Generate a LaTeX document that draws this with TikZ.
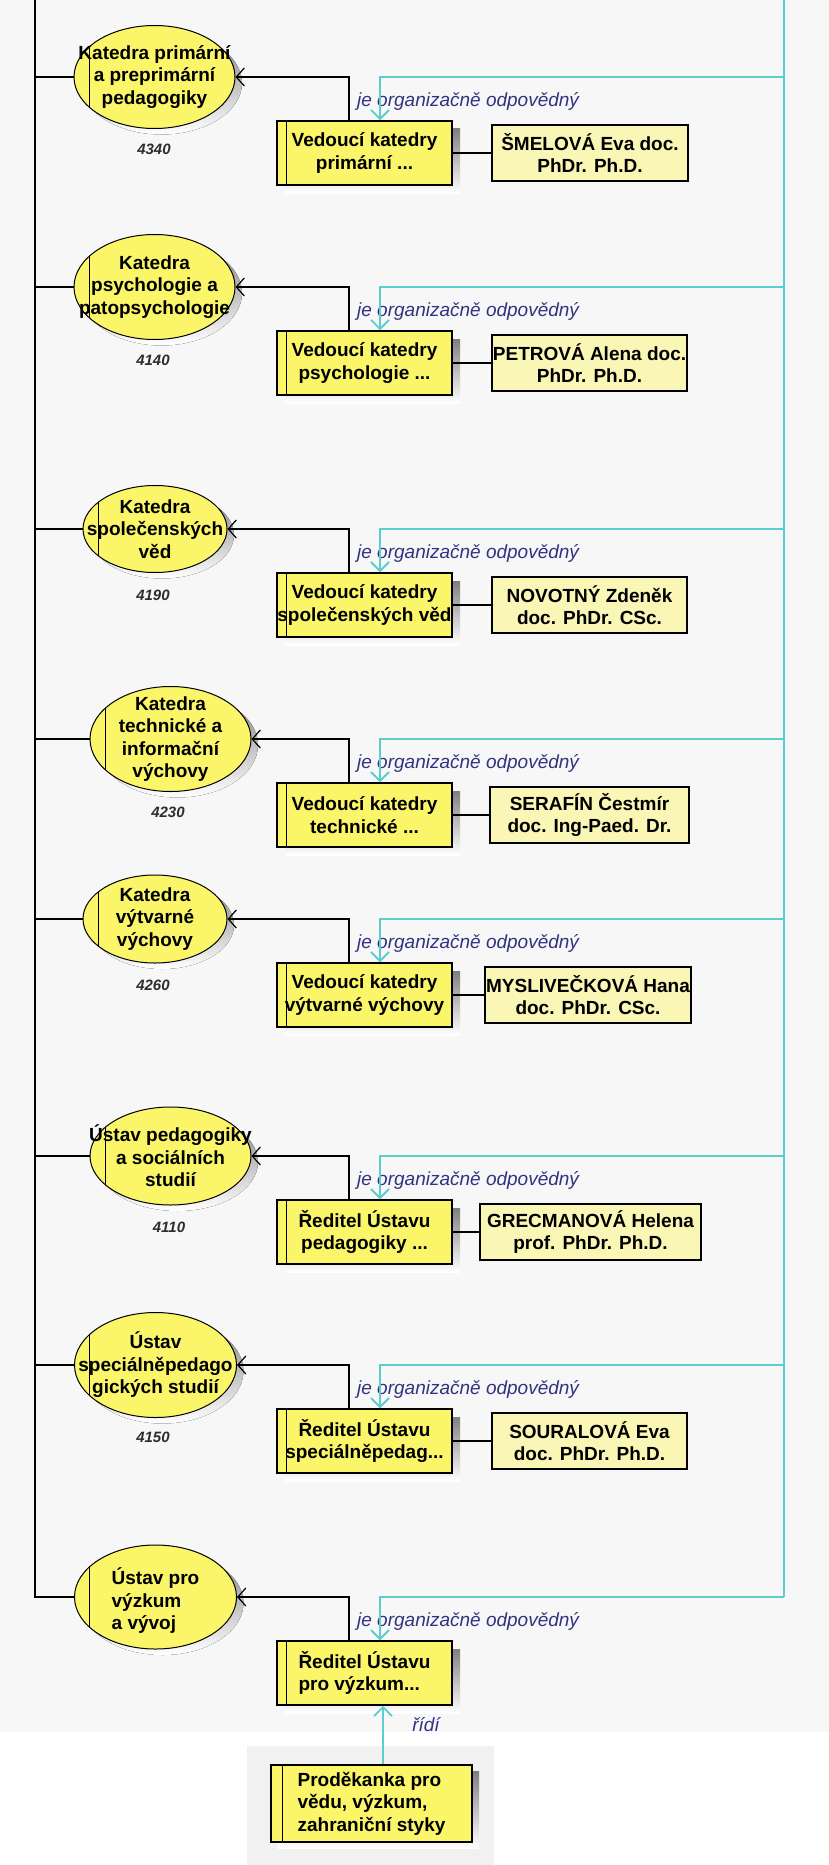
\documentclass[tikz,border=0pt]{standalone}
\usepackage{fontspec}
\setmainfont{Liberation Sans}
\usetikzlibrary{arrows.meta,shapes.geometric,calc}

\definecolor{bgmain}{RGB}{247,247,247}
\definecolor{bgbox}{RGB}{241,241,241}
\definecolor{yel}{RGB}{250,245,105}
\definecolor{pale}{RGB}{250,246,182}
\definecolor{shade}{RGB}{160,160,160}
\definecolor{tealc}{RGB}{95,205,205}
\definecolor{navy}{RGB}{50,50,130}
\definecolor{numc}{RGB}{45,45,45}

\newcommand\EllNode[5]{%
  \fill[shade] (#2+7,#3+6) ellipse [x radius=#4/2, y radius=#5/2];
  \node[ell, minimum width=#4pt, minimum height=#5pt] (#1) at (#2,#3) {};
}
\newcommand\MainBox[5]{%
  \fill[shade] (#2-87.5+8,#3-32+8) rectangle (#2+87.5+8,#3+32+8);
  \node[mainbox, align=#4] (#1) at (#2,#3) {#5};
  \draw[line width=1.2pt] ([xshift=10pt]#1.north west) -- ([xshift=10pt]#1.south west);
}

\begin{document}
\begin{tikzpicture}[x=1pt,y=-1pt,
  txt/.style={font=\bfseries\fontsize{19}{22.5}\selectfont},
  ell/.style={ellipse, draw=black, line width=1pt, fill=yel, inner sep=0pt,
    path picture={\draw[line width=1pt] ([xshift=15pt]path picture bounding box.north west) -- ([xshift=15pt]path picture bounding box.south west);}},
  etext/.style={txt, align=center, inner sep=0pt},
  mainbox/.style={rectangle, draw=black, line width=1.5pt, fill=yel, minimum width=175pt, minimum height=64pt, inner sep=0pt, txt},
  person/.style={rectangle, draw=black, line width=1.2pt, fill=pale, minimum height=56pt, inner sep=0pt, txt, align=center},
  rel/.style={font=\itshape\fontsize{19}{22}\selectfont, text=navy, inner sep=0pt},
  num/.style={font=\bfseries\itshape\fontsize{15}{18}\selectfont, text=numc, inner sep=0pt},
  blk/.style={draw=black, line width=1.2pt},
  blkarr/.style={blk, -{Straight Barb[length=8pt,width=18pt]}},
  tealline/.style={draw=tealc, line width=2.5pt},
  tealarr/.style={tealline, -{Straight Barb[length=9pt,width=18pt,line width=1.8pt]}}
]
\useasboundingbox (0,0) rectangle (829,1865);
\fill[bgmain] (0,0) rectangle (829,1732);
\fill[white] (0,1732) rectangle (829,1865);
\fill[bgbox] (247,1746) rectangle (494,1865);

\coordinate (lt) at (35,0);
\coordinate (lb) at (35,1597);
\coordinate (rt) at (784,0);
\coordinate (t1) at (784,77);
\coordinate (t2) at (784,287);
\coordinate (t3) at (784,529);
\coordinate (t4) at (784,739);
\coordinate (t5) at (784,919);
\coordinate (t6) at (784,1156);
\coordinate (t7) at (784,1365);
\coordinate (t8) at (784,1597);

% ---------- ellipses ----------
\EllNode{e1}{154.5}{77}{161}{103}
\node[etext] (e1t) at (e1.center) {Katedra primární\\a preprimární\\pedagogiky};
\EllNode{e2}{154.5}{287}{161}{105}
\node[etext] (e2t) at (e2.center) {Katedra\\psychologie a\\patopsychologie};
\EllNode{e3}{155}{529}{144}{87}
\node[etext] (e3t) at (e3.center) {Katedra\\společenských\\věd};
\EllNode{e4}{170.5}{739}{161}{105}
\node[etext] (e4t) at (e4.center) {Katedra\\technické a\\informační\\výchovy};
\EllNode{e5}{155}{919}{144}{88}
\node[etext] (e5t) at (e5.center) {Katedra\\výtvarné\\výchovy};
\EllNode{e6}{170.5}{1156}{161}{98}
\node[etext] (e6t) at (e6.center) {Ústav pedagogiky\\a sociálních\\studií};
\EllNode{e7}{155.5}{1365}{162}{105}
\node[etext] (e7t) at (e7.center) {Ústav\\speciálněpedago\\gických studií};
\EllNode{e8}{155.5}{1597}{162}{104}
\node[etext, align=left] (e8t) at ([yshift=-4pt]e8.center) {Ústav pro\\výzkum\\a vývoj};

% ---------- numbers ----------
\node[num] (n1) at (154,149) {4340};
\node[num] (n2) at (153,360) {4140};
\node[num] (n3) at (153,595) {4190};
\node[num] (n4) at (168,812) {4230};
\node[num] (n5) at (153,985) {4260};
\node[num] (n6) at (169,1227) {4110};
\node[num] (n7) at (153,1437) {4150};

% ---------- role boxes ----------
\MainBox{b1}{364.5}{153}{center}{Vedoucí katedry\\primární ...}
\MainBox{b2}{364.5}{363}{center}{Vedoucí katedry\\psychologie ...}
\MainBox{b3}{364.5}{605}{center}{Vedoucí katedry\\společenských věd}
\MainBox{b4}{364.5}{815}{center}{Vedoucí katedry\\technické ...}
\MainBox{b5}{364.5}{995}{center}{Vedoucí katedry\\výtvarné výchovy}
\MainBox{b6}{364.5}{1232}{center}{Ředitel Ústavu\\pedagogiky ...}
\MainBox{b7}{364.5}{1441}{center}{Ředitel Ústavu\\speciálněpedag...}
\MainBox{b8}{364.5}{1673}{left}{Ředitel Ústavu\\pro výzkum...}

% ---------- persons ----------
\node[person, minimum width=196pt] (p1) at (590,153) {ŠMELOVÁ Eva doc.\\PhDr. Ph.D.};
\node[person, minimum width=195pt] (p2) at (589.5,363) {PETROVÁ Alena doc.\\PhDr. Ph.D.};
\node[person, minimum width=195pt] (p3) at (589.5,605) {NOVOTNÝ Zdeněk\\doc. PhDr. CSc.};
\node[person, minimum width=199pt] (p4) at (589.5,815) {SERAFÍN Čestmír\\doc. Ing-Paed. Dr.};
\node[person, minimum width=206pt] (p5) at (588,995) {MYSLIVEČKOVÁ Hana\\doc. PhDr. CSc.};
\node[person, minimum width=221pt] (p6) at (590.5,1232) {GRECMANOVÁ Helena\\prof. PhDr. Ph.D.};
\node[person, minimum width=195pt] (p7) at (589.5,1441) {SOURALOVÁ Eva\\doc. PhDr. Ph.D.};

% ---------- vice-dean ----------
\fill[shade] (278,1771) rectangle (479,1848);
\node[mainbox, minimum width=201pt, minimum height=77pt, align=left] (pro) at (371.5,1803.5) {Proděkanka pro\\vědu, výzkum,\\zahraniční styky};
\draw[line width=1.2pt] ([xshift=12pt]pro.north west) -- ([xshift=12pt]pro.south west);

% ---------- relation labels ----------
\node[rel, anchor=west] (r1) at (357,101) {je organizačně odpovědný};
\node[rel, anchor=west] (r2) at (357,311) {je organizačně odpovědný};
\node[rel, anchor=west] (r3) at (357,553) {je organizačně odpovědný};
\node[rel, anchor=west] (r4) at (357,763) {je organizačně odpovědný};
\node[rel, anchor=west] (r5) at (357,943) {je organizačně odpovědný};
\node[rel, anchor=west] (r6) at (357,1180) {je organizačně odpovědný};
\node[rel, anchor=west] (r7) at (357,1389) {je organizačně odpovědný};
\node[rel, anchor=west] (r8) at (357,1621) {je organizačně odpovědný};
\node[rel] (rr) at (426,1725) {řídí};

% ---------- black connectors ----------
\draw[blk] (lt) -- (lb) -- (e8.west);
\foreach \i in {1,...,7} {\draw[blk] (e\i.west) -- (e\i.west -| lt);}
\foreach \i in {1,...,8} {\draw[blkarr] ([xshift=-15.5pt]b\i.north) |- (e\i.east);}
\foreach \i in {1,...,7} {\draw[blk] (b\i.east) -- (p\i.west);}

% ---------- teal connectors ----------
\draw[tealline] (rt) -- (t8);
\foreach \i in {1,...,8} {\draw[tealarr] (t\i) -| ([xshift=15.5pt]b\i.north);}
\draw[tealarr] ([xshift=11.5pt]pro.north) -- ([xshift=11.5pt]pro.north |- b8.south);
\end{tikzpicture}
\end{document}
